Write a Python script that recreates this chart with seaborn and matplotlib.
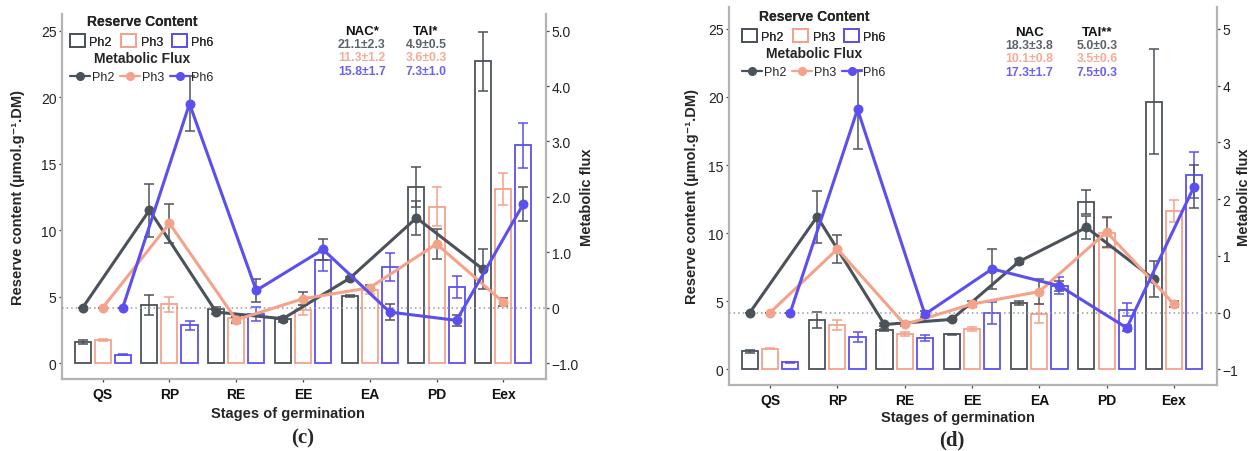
import matplotlib
matplotlib.use("Agg")
import matplotlib.pyplot as plt
from matplotlib.lines import Line2D
from matplotlib.patches import Patch
import numpy as np
import pandas as pd
import seaborn as sns

stages = ["QS", "RP", "RE", "EE", "EA", "PD", "Eex"]
phases = ["Ph2", "Ph3", "Ph6"]
colors = ["#4b5259", "#f5a28b", "#5b50ef"]

# panel (c): reserve content (left axis) and metabolic flux (right axis)
c_reserve_ph2 = [1.55, 4.35, 4.1, 3.28, 5.05, 13.26, 22.68]
c_reserve_ph3 = [1.75, 4.42, 3.4, 4.0, 5.52, 11.76, 13.08]
c_reserve_ph6 = [0.62, 2.84, 3.7, 7.72, 7.22, 5.69, 16.39]
c_reserve_err_ph2 = [0.15, 0.75, 0.12, 0.2, 0.1, 1.5, 2.25]
c_reserve_err_ph3 = [0.06, 0.58, 0.25, 0.4, 0.3, 1.48, 1.18]
c_reserve_err_ph6 = [0.03, 0.33, 0.55, 0.8, 1.08, 0.83, 1.7]
c_flux_ph2 = [0, 1.76, -0.08, -0.2, 0.53, 1.62, 0.69]
c_flux_ph3 = [0, 1.52, -0.22, 0.16, 0.36, 1.15, 0.1]
c_flux_ph6 = [0, 3.68, 0.31, 1.05, -0.08, -0.23, 1.87]
c_flux_err_ph2 = [0, 0.48, 0.03, 0.04, 0.02, 0.3, 0.36]
c_flux_err_ph3 = [0, 0.35, 0.05, 0.12, 0.04, 0.27, 0.07]
c_flux_err_ph6 = [0, 0.5, 0.2, 0.19, 0.14, 0.1, 0.3]
c_nac_title, c_tai_title = "NAC*", "TAI*"
c_nac = ["21.1±2.3", "11.3±1.2", "15.8±1.7"]
c_tai = ["4.9±0.5", "3.6±0.3", "7.3±1.0"]
c_flux_ticklabels = ["−1.0", "0", "1.0", "2.0", "3.0", "4.0", "5.0"]

# panel (d)
d_reserve_ph2 = [1.32, 3.63, 2.89, 2.57, 4.88, 12.3, 19.63]
d_reserve_ph3 = [1.52, 3.24, 2.57, 2.97, 4.09, 9.98, 11.6]
d_reserve_ph6 = [0.51, 2.38, 2.3, 4.14, 6.15, 4.39, 14.24]
d_reserve_err_ph2 = [0.1, 0.6, 0.1, 0.05, 0.15, 0.9, 3.85]
d_reserve_err_ph3 = [0.05, 0.35, 0.15, 0.13, 0.67, 1.1, 0.8]
d_reserve_err_ph6 = [0.05, 0.37, 0.22, 0.82, 0.6, 0.45, 1.69]
d_flux_ph2 = [0, 1.69, -0.21, -0.12, 0.9, 1.5, 0.59]
d_flux_ph3 = [0, 1.12, -0.21, 0.15, 0.37, 1.42, 0.15]
d_flux_ph6 = [0, 3.58, -0.03, 0.77, 0.47, -0.27, 2.22]
d_flux_err_ph2 = [0, 0.46, 0.03, 0.03, 0.05, 0.2, 0.32]
d_flux_err_ph3 = [0, 0.24, 0.03, 0.05, 0.22, 0.27, 0.05]
d_flux_err_ph6 = [0, 0.7, 0.05, 0.35, 0.09, 0.05, 0.38]
d_nac_title, d_tai_title = "NAC", "TAI**"
d_nac = ["18.3±3.8", "10.1±0.8", "17.3±1.7"]
d_tai = ["5.0±0.3", "3.5±0.6", "7.5±0.3"]
d_flux_ticklabels = ["−1", "0", "1", "2", "3", "4", "5"]

sns.set_theme(style="white")
plt.rcParams["font.family"] = ["Liberation Sans", "DejaVu Sans"]

W, H = 1253, 452
SPINE = "#b4b4b4"
ERRGRAY = "#50565c"
OFFSETS = [-0.3, 0.0, 0.3]


def fx(px):
    return px / W


def fy(py):
    return 1 - py / H


def long_df(values, errs):
    return pd.DataFrame({
        "stage": np.tile(stages, len(phases)),
        "phase": np.repeat(phases, len(stages)),
        "value": np.concatenate(values),
        "err": np.concatenate(errs),
    })


def draw_panel(fig, box, reserve, reserve_err, flux, flux_err, ylim,
               flux_ticklabels, stats, leg_xy, letter, letter_xy, xlab_xy,
               ylab_x, rlab_x):
    x0, y0, x1, y1 = box
    ax = fig.add_axes([fx(x0), fy(y1), fx(x1 - x0), (y1 - y0) / H])
    ax2 = ax.twinx()

    res = long_df(reserve, reserve_err)
    sns.barplot(data=res, x="stage", y="value", hue="phase", order=stages,
                hue_order=phases, palette=colors, saturation=1, fill=False,
                width=0.9, gap=0.2, errorbar=None, linewidth=1.3,
                legend=False, ax=ax)
    for i, ph in enumerate(phases):
        sub = res[res.phase == ph]
        ax.errorbar(np.arange(len(stages)) + OFFSETS[i], sub.value, yerr=sub.err,
                    fmt="none", ecolor=colors[i], elinewidth=1.1, capsize=3.5,
                    capthick=1.1)

    # flux on the right axis
    fl = long_df(flux, flux_err)
    ax2.axhline(0, color="#9a9a9a", ls=(0, (1, 2)), lw=1.1, zorder=0)
    for i, ph in enumerate(phases):
        sub = fl[fl.phase == ph]
        ax2.errorbar(np.arange(len(stages)) + OFFSETS[i], sub.value, yerr=sub.err,
                     fmt="none", ecolor=ERRGRAY, elinewidth=1.1, capsize=3.5,
                     capthick=1.1)
    sns.pointplot(data=fl, x="stage", y="value", hue="phase", order=stages,
                  hue_order=phases, palette=colors, dodge=0.6, errorbar=None,
                  markers="o", markersize=5.5, linewidth=2.2, legend=False,
                  ax=ax2)

    ax.set_xlim(-0.61, 6.64)
    ax.set_ylim(*ylim)
    ax2.set_ylim(ylim[0] * 0.24 - 1, ylim[1] * 0.24 - 1)
    ax.set_yticks([0, 5, 10, 15, 20, 25])
    ax2.set_yticks([-1, 0, 1, 2, 3, 4, 5])
    ax2.set_yticklabels(flux_ticklabels)
    ax.set_xlabel("")
    ax.set_ylabel("")
    ax2.set_ylabel("")

    for a in (ax, ax2):
        for s in a.spines.values():
            s.set_visible(False)
    ax.spines["left"].set_visible(True)
    ax.spines["bottom"].set_visible(True)
    ax2.spines["right"].set_visible(True)
    for s in (ax.spines["left"], ax.spines["bottom"], ax2.spines["right"]):
        s.set_color(SPINE)
        s.set_linewidth(1.6)

    ax.tick_params(axis="y", left=True, length=2.5, width=0.9, color="#444",
                   labelsize=10, pad=1.5, labelcolor="#222")
    ax.tick_params(axis="x", bottom=True, length=2.5, width=0.9, color="#444",
                   pad=3.5, labelcolor="#111")
    for t in ax.get_xticklabels():
        t.set_fontsize(10)
        t.set_fontweight("bold")
    ax2.tick_params(axis="y", right=True, length=2.5, width=0.9, color="#444",
                    labelsize=10, pad=1.5, labelcolor="#222")

    # legends
    lx, ly = leg_xy
    res_handles = [Patch(facecolor="none", edgecolor=c, linewidth=1.3) for c in colors]
    leg1 = ax.legend(res_handles, phases, title="Reserve Content", ncol=3,
                     loc="upper left", bbox_to_anchor=(fx(lx), fy(ly)),
                     bbox_transform=fig.transFigure, frameon=False, fontsize=9,
                     handlelength=1.2, handleheight=1.2, handletextpad=0.35,
                     columnspacing=0.75, borderpad=0, borderaxespad=0)
    leg1.get_title().set_fontweight("bold")
    leg1.get_title().set_fontsize(10)
    ax.add_artist(leg1)
    flux_handles = [Line2D([], [], color=c, marker="o", markersize=5.5, lw=1.6)
                    for c in colors]
    leg2 = ax2.legend(flux_handles, phases, title="Metabolic Flux", ncol=3,
                      loc="upper left", bbox_to_anchor=(fx(lx), fy(ly + 37)),
                      bbox_transform=fig.transFigure, frameon=False, fontsize=9,
                      handlelength=1.6, handletextpad=0.15, columnspacing=0.45,
                      borderpad=0, borderaxespad=0)
    leg2.get_title().set_fontweight("bold")
    leg2.get_title().set_fontsize(10)

    # NAC / TAI summary
    (nac_title, nac_vals, nac_x), (tai_title, tai_vals, tai_x), top = stats
    for title, vals, tx in ((nac_title, nac_vals, nac_x), (tai_title, tai_vals, tai_x)):
        fig.text(fx(tx), fy(top), title, ha="center", va="center",
                 fontsize=9.5, fontweight="bold", color="#111")
        for k, v in enumerate(vals):
            fig.text(fx(tx), fy(top + 13 + 13.3 * k), v, ha="center",
                     va="center", fontsize=8.8, fontweight="bold",
                     color=colors[k], alpha=0.9)

    mid = (y0 + y1) / 2
    fig.text(fx(xlab_xy[0]), fy(xlab_xy[1]), "Stages of germination",
             ha="center", va="center", fontsize=10.5, fontweight="bold")
    fig.text(fx(ylab_x), fy(mid), "Reserve content (µmol.g⁻¹.DM)", rotation=90,
             ha="center", va="center", fontsize=10.5, fontweight="bold")
    fig.text(fx(rlab_x), fy(mid), "Metabolic flux", rotation=90,
             ha="center", va="center", fontsize=10.5, fontweight="bold")
    fig.text(fx(letter_xy[0]), fy(letter_xy[1]), letter, ha="center",
             va="center", fontsize=15, fontweight="bold",
             family="Liberation Serif")


fig = plt.figure(figsize=(W / 100, H / 100), dpi=100)

draw_panel(fig, (62, 15, 546, 380),
           [c_reserve_ph2, c_reserve_ph3, c_reserve_ph6],
           [c_reserve_err_ph2, c_reserve_err_ph3, c_reserve_err_ph6],
           [c_flux_ph2, c_flux_ph3, c_flux_ph6],
           [c_flux_err_ph2, c_flux_err_ph3, c_flux_err_ph6],
           (-1.2, 26.25), c_flux_ticklabels,
           ((c_nac_title, c_nac, 362), (c_tai_title, c_tai, 426), 32),
           (70, 15), "(c)", (303, 438), (288, 414), 18, 587)

draw_panel(fig, (729, 8, 1217, 386),
           [d_reserve_ph2, d_reserve_ph3, d_reserve_ph6],
           [d_reserve_err_ph2, d_reserve_err_ph3, d_reserve_err_ph6],
           [d_flux_ph2, d_flux_ph3, d_flux_ph6],
           [d_flux_err_ph2, d_flux_err_ph3, d_flux_err_ph6],
           (-1.15, 26.6), d_flux_ticklabels,
           ((d_nac_title, d_nac, 1029), (d_tai_title, d_tai, 1097), 33),
           (742, 10), "(d)", (952, 440), (958, 418), 692, 1244)

fig.savefig("out.png", dpi=100, facecolor="white")
